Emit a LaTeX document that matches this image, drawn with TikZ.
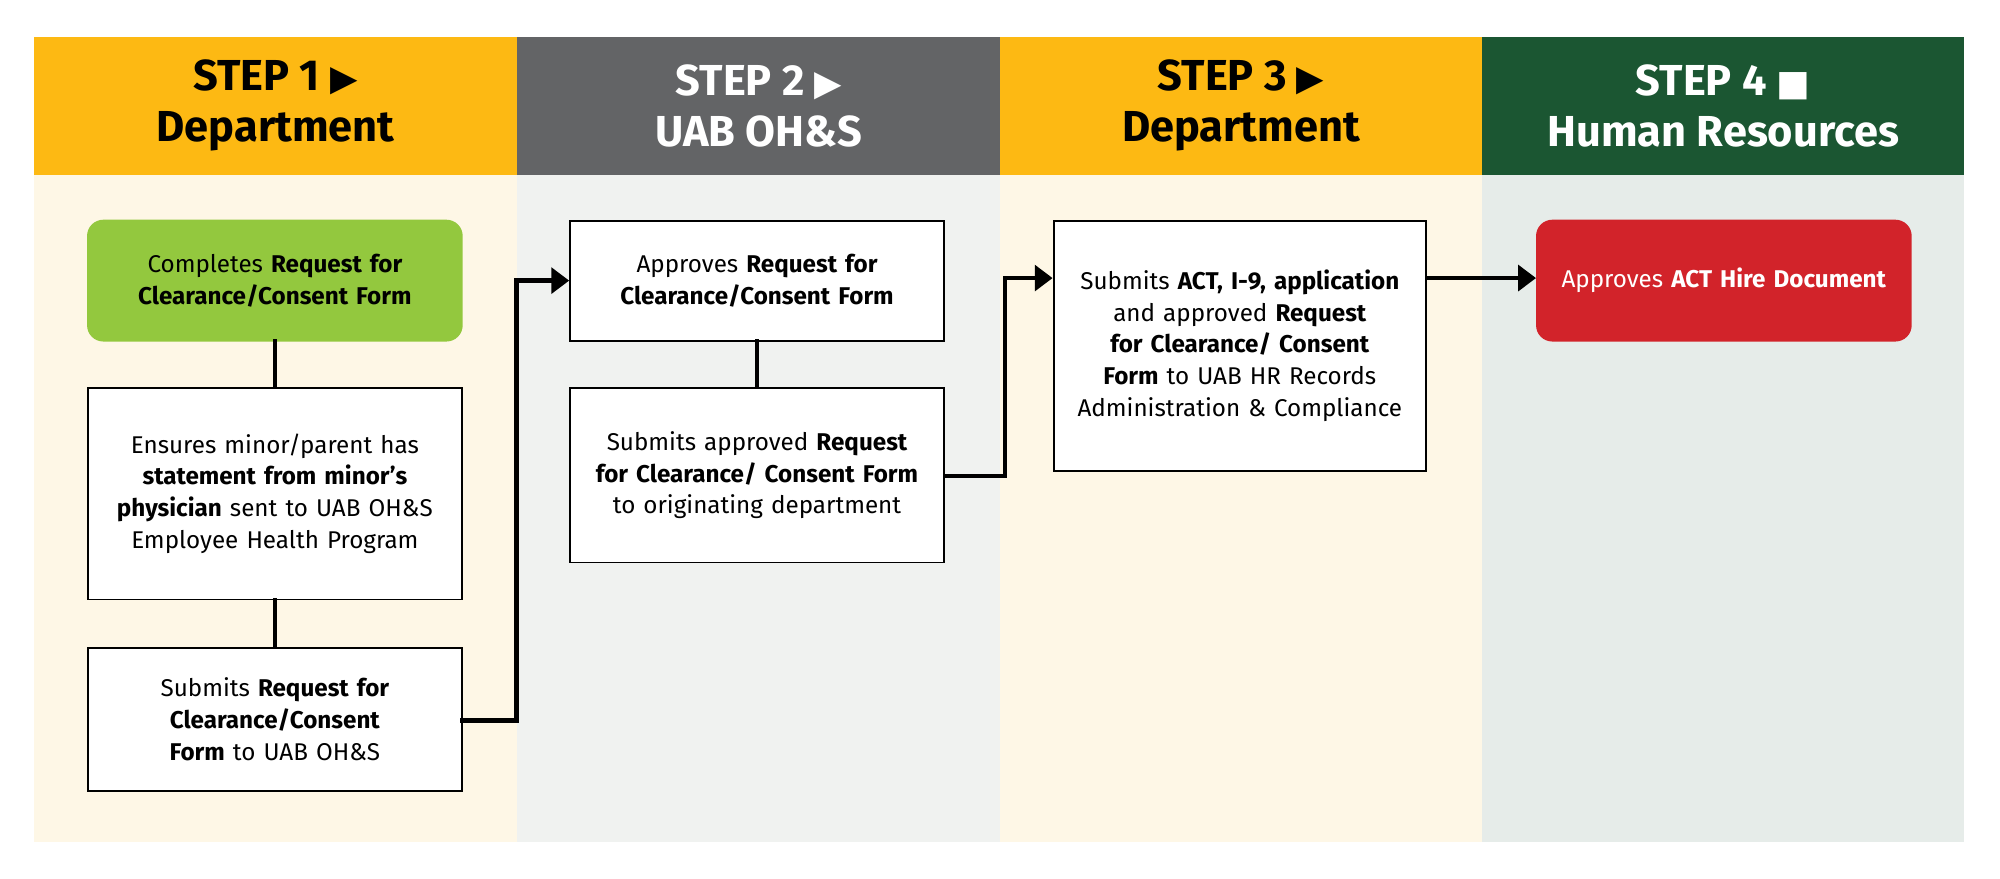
\documentclass[tikz,border=0pt]{standalone}
\usepackage{fontspec}
\setmainfont{Fira Sans}
\newfontfamily\sym{DejaVu Sans}
\usetikzlibrary{arrows.meta}
\definecolor{cyel}{HTML}{FDB913}
\definecolor{cgray}{HTML}{636466}
\definecolor{cdgreen}{HTML}{1B5632}
\definecolor{ccream}{HTML}{FEF7E6}
\definecolor{clgray}{HTML}{F0F2F0}
\definecolor{clgreen}{HTML}{E6ECE9}
\definecolor{cgreen}{HTML}{93C83E}
\definecolor{cred}{HTML}{D2232A}
\begin{document}
\begin{tikzpicture}[x=1pt,y=-1pt,
  hdr/.style={font=\fontsize{34}{40}\selectfont\bfseries,align=center},
  box/.style={draw=black,line width=1.5pt,fill=white,inner sep=0pt,align=center,
    font=\fontsize{19}{25}\selectfont,text width=#1},
  box/.default=270pt,
  rbox/.style={box,rounded corners=12pt},
  conn/.style={line width=3.5pt,line cap=rect},
  arr/.style={conn,-{Triangle[length=14pt,width=20pt]}}]
\useasboundingbox (0,0) rectangle (1568,689);
\fill[white] (0,0) rectangle (1568,689);
% columns
\fill[cyel] (27,29) rectangle (405,137);
\fill[cgray] (405,29) rectangle (784,137);
\fill[cyel] (784,29) rectangle (1162,137);
\fill[cdgreen] (1162,29) rectangle (1540,137);
\fill[ccream] (27,137) rectangle (405,660);
\fill[clgray] (405,137) rectangle (784,660);
\fill[ccream] (784,137) rectangle (1162,660);
\fill[clgreen] (1162,137) rectangle (1540,660);
\node[hdr] (h1) at (216,83) {STEP 1 {\sym\fontsize{28}{30}\selectfont ▶}\\Department};
\node[hdr,text=white] (h2) at (595,83) {STEP 2 {\sym\fontsize{28}{30}\selectfont ▶}\\UAB OH\&S};
\node[hdr] (h3) at (973,83) {STEP 3 {\sym\fontsize{28}{30}\selectfont ▶}\\Department};
\node[hdr,text=white] (h4) at (1351,83) {STEP 4 {\sym\fontsize{28}{30}\selectfont ■}\\Human Resources};
% boxes
\node[rbox,fill=cgreen,draw=cgreen,minimum width=293pt,minimum height=94pt] (a1) at (215.5,220)
  {Completes \textbf{Request for Clearance/Consent Form}};
\node[box,minimum width=293pt,minimum height=166pt] (a2) at (215.5,387)
  {Ensures minor/parent has \textbf{statement from minor’s physician} sent to UAB OH\&S Employee Health Program};
\node[box,minimum width=293pt,minimum height=112pt] (a3) at (215.5,564)
  {Submits \textbf{Request for Clearance/Consent Form} to UAB OH\&S};
\node[box,minimum width=293pt,minimum height=94pt] (b1) at (593.5,220)
  {Approves \textbf{Request for Clearance/Consent Form}};
\node[box,minimum width=293pt,minimum height=137pt] (b2) at (593.5,372.5)
  {Submits approved \textbf{Request for Clearance/ Consent Form} to originating department};
\node[box,minimum width=292pt,minimum height=196pt,text width=262pt] (c1) at (972,271)
  {Submits \textbf{ACT, I-9, application} and approved \textbf{Request for Clearance/ Consent Form} to UAB HR Records Administration \& Compliance};
\node[rbox,fill=cred,draw=cred,text=white,minimum width=293pt,minimum height=94pt] (d1) at (1351.5,220)
  {Approves \textbf{ACT Hire Document}};
% connectors
\draw[conn] (a1) -- (a2);
\draw[conn] (a2) -- (a3);
\draw[conn] (b1) -- (b2);
\coordinate (k1) at (405,565);
\coordinate (k2) at (405,220);
\draw[arr] (a3.east |- k1) -- (k1) -- (k2) -- (b1.west |- k2);
\coordinate (k3) at (788,373);
\coordinate (k4) at (788,218);
\draw[arr] (b2.east |- k3) -- (k3) -- (k4) -- (c1.west |- k4);
\draw[arr] (c1.east |- k4) -- (d1.west |- k4);
\end{tikzpicture}
\end{document}
